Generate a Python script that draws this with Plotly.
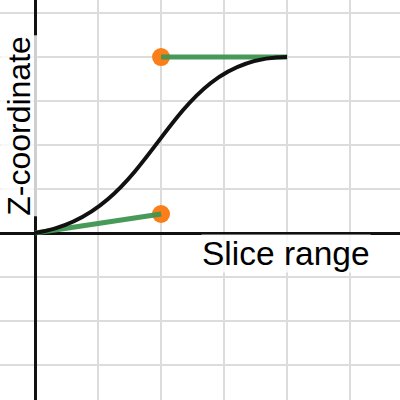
import plotly.graph_objects as go

# Cubic Bezier control points (data units)
ctrl_x = [0.0, 0.5, 0.5, 1.0]
ctrl_y = [0.0, 0.108, 1.0, 1.0]

x_label = "Slice range"
y_label = "Z-coordinate"

fig = go.Figure()

# orange control handles
fig.add_trace(go.Scatter(
    x=[ctrl_x[1], ctrl_x[2]], y=[ctrl_y[1], ctrl_y[2]], mode="markers",
    marker=dict(size=18, color="#fa7e19", line=dict(width=0)),
    hoverinfo="skip", showlegend=False))

# green handle lines
fig.add_trace(go.Scatter(
    x=[ctrl_x[0], ctrl_x[1]], y=[ctrl_y[0], ctrl_y[1]], mode="lines",
    line=dict(color="#3f9550", width=5), opacity=0.95,
    hoverinfo="skip", showlegend=False))
fig.add_trace(go.Scatter(
    x=[ctrl_x[2], ctrl_x[3]], y=[ctrl_y[2], ctrl_y[3]], mode="lines",
    line=dict(color="#3f9550", width=5), opacity=0.95,
    hoverinfo="skip", showlegend=False))

# reference lines x=1 and y=1
fig.add_shape(type="line", xref="x", yref="paper", x0=ctrl_x[3], x1=ctrl_x[3], y0=0, y1=1,
              line=dict(color="#8f8f8f", width=1.5), layer="below")
fig.add_shape(type="line", xref="paper", yref="y", x0=0, x1=1, y0=ctrl_y[3], y1=ctrl_y[3],
              line=dict(color="#8f8f8f", width=1.5), layer="below")

# Bezier curve
path = "M {},{} C {},{} {},{} {},{}".format(
    ctrl_x[0], ctrl_y[0], ctrl_x[1], ctrl_y[1], ctrl_x[2], ctrl_y[2], ctrl_x[3], ctrl_y[3])
fig.add_shape(type="path", xref="x", yref="y", path=path,
              line=dict(color="#111111", width=4), layer="above")

fig.add_annotation(text=x_label, xref="paper", yref="paper", x=0.503, y=0.367,
                   xanchor="left", yanchor="middle", showarrow=False,
                   font=dict(family="Liberation Sans, Arial", size=33.5, color="#000"),
                   bgcolor="rgba(255,255,255,0.8)", borderpad=0)
fig.add_annotation(text=y_label, xref="paper", yref="paper", x=0.047, y=0.685,
                   xanchor="center", yanchor="middle", showarrow=False, textangle=-90,
                   font=dict(family="Liberation Sans, Arial", size=32, color="#000"),
                   bgcolor="rgba(255,255,255,0.8)", borderpad=0)

fig.update_layout(
    width=400, height=400, margin=dict(l=0, r=0, t=0, b=0),
    paper_bgcolor="white", plot_bgcolor="white",
    xaxis=dict(range=[-0.139, 1.448], dtick=0.25, tick0=0, showgrid=True,
               gridcolor="#dcdcdc", gridwidth=1.5, zeroline=True, zerolinecolor="#111",
               zerolinewidth=2.5, showticklabels=False, ticks="", fixedrange=True),
    yaxis=dict(range=[-0.949, 1.324], dtick=0.25, tick0=0, showgrid=True,
               gridcolor="#dcdcdc", gridwidth=1.5, zeroline=True, zerolinecolor="#111",
               zerolinewidth=2.5, showticklabels=False, ticks="", fixedrange=True),
    showlegend=False,
)

fig.write_html("out.html", config={"displayModeBar": False},
               post_script="document.body.style.margin='0';")
